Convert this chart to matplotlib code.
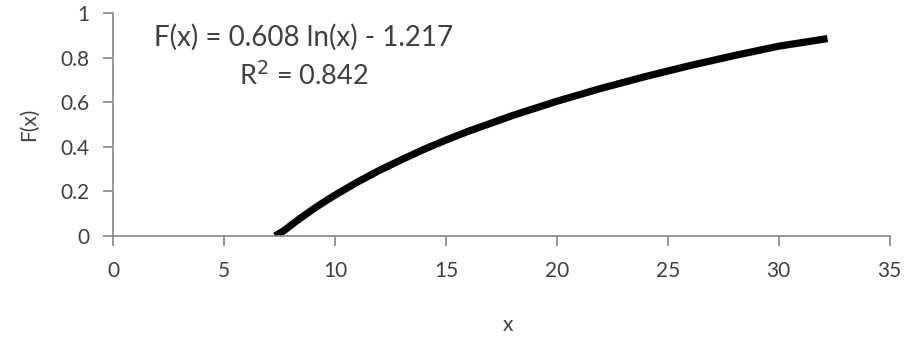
import matplotlib
matplotlib.use("Agg")
import matplotlib.pyplot as plt

plt.rcParams["font.family"] = ["Lato", "DejaVu Sans"]

# curve values
x_vals = [7.3, 7.7, 8, 8.5, 9, 9.5, 10, 11, 12, 13, 14, 15, 16, 18, 20, 22, 24, 26, 28, 30, 32.2]
f_vals = [0.0, 0.024, 0.047, 0.084, 0.119, 0.152, 0.183, 0.241, 0.294, 0.342, 0.388, 0.430,
          0.469, 0.540, 0.604, 0.662, 0.715, 0.764, 0.809, 0.851, 0.885]
x_ticks = [0, 5, 10, 15, 20, 25, 30, 35]
y_ticks = [0, 0.2, 0.4, 0.6, 0.8, 1]
y_labels = ["0", "0.2", "0.4", "0.6", "0.8", "1"]

AXIS = "#868686"
TXT = "#404040"

fig = plt.figure(figsize=(9.05, 3.41), dpi=100)
ax = fig.add_axes([0.125, 0.308, 0.858, 0.654])
ax.plot(x_vals, f_vals, color="black", lw=5.2, solid_capstyle="butt")
ax.set_xlim(0, 35)
ax.set_ylim(0, 1)
ax.set_xticks(x_ticks)
ax.set_xticklabels([str(t) for t in x_ticks])
ax.set_yticks(y_ticks)
ax.set_yticklabels(y_labels)
for s in ("top", "right"):
    ax.spines[s].set_visible(False)
for s in ("left", "bottom"):
    ax.spines[s].set_color(AXIS)
    ax.spines[s].set_linewidth(1.2)
ax.tick_params(colors=AXIS, labelcolor=TXT, labelsize=15, length=7, width=1.2)
ax.tick_params(axis="x", pad=11)
ax.tick_params(axis="y", pad=10)
ax.set_xlabel("x", fontsize=15, color=TXT, va="center")
ax.set_ylabel("F(x)", fontsize=15, color=TXT, va="center")
ax.xaxis.set_label_coords(0.508, -0.40)
ax.yaxis.set_label_coords(-0.109, 0.5)

ax.text(8.6, 0.89, "F(x) = 0.608 ln(x) - 1.217", fontsize=20, color=TXT,
        ha="center", va="center")
ax.text(8.6, 0.72, "R$^2$ = 0.842", fontsize=19.5, color=TXT,
        ha="center", va="center")

fig.savefig("out.png", dpi=100)
